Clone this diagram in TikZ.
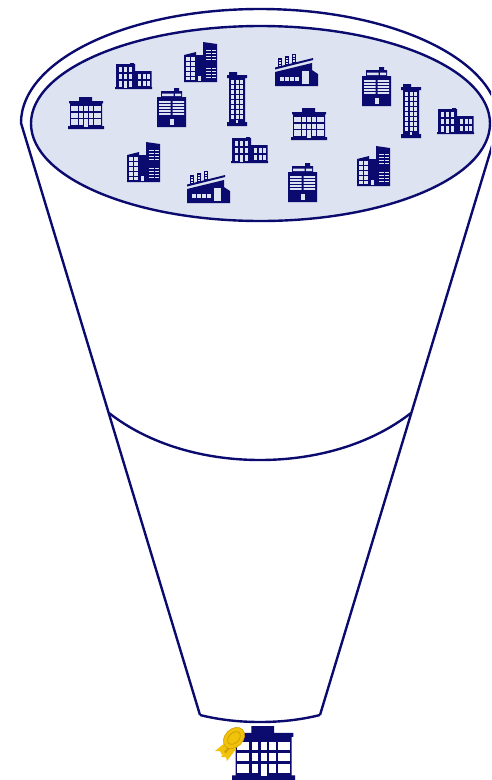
\documentclass[tikz,border=0pt]{standalone}
\definecolor{navy}{HTML}{0B0B6F}
\definecolor{pale}{HTML}{DDE3F0}
\definecolor{gold}{HTML}{F0C20A}
\definecolor{golddark}{HTML}{CFA006}
\tikzset{
  funnel/.style={draw=navy,line width=2.4pt,line join=round},
  body/.style={fill=navy,draw=none},
  pane/.style={fill=\wc,draw=none},
  icon/.style={x=1pt,y=-1pt}
}
\newcommand{\wc}{pale}
% Wide office block, 36 x 32
\newcommand{\iconA}{
  \fill[body] (11,0) rectangle (24,5) (1,4) rectangle (35,6.4) (2,6) rectangle (34,29.5) (0,29) rectangle (36,32);
  \foreach \ya/\yb in {9.4/14,16/20.6,22.4/27.6}{
    \foreach \xa/\xb in {2.6/9.8,11.4/15,16.4/20,21.4/25,26.4/33.4}{
      \fill[pane] (\xa,\ya) rectangle (\xb,\yb);}}
  \fill[pane] (16.4,27) rectangle (20,29.5);
}
% Low two-part building, 37 x 26
\newcommand{\iconB}{
  \fill[body] (1,1) rectangle (20,25) (15,0) rectangle (19,2) (20,8) rectangle (36.5,25) (0,24) rectangle (37,26);
  \foreach \ya/\yb in {3.5/8.5,11/16,18/23.5}{
    \foreach \xa/\xb in {3.5/7,8.5/12,13.5/17}{
      \fill[pane] (\xa,\ya) rectangle (\xb,\yb);}}
  \foreach \ya/\yb in {11/16,18/23}{
    \foreach \xa/\xb in {22.5/26,27.5/30.5,32/35}{
      \fill[pane] (\xa,\ya) rectangle (\xb,\yb);}}
  \fill[pane] (8.5,23) rectangle (12,25);
}
% Twin tower, 33 x 40
\newcommand{\iconC}{
  \fill[body] (0,13) -- (12,10) -- (12,13) -- (19,13) -- (19,0) -- (33,2) -- (33,40) -- (0,40) -- cycle;
  \foreach \ya in {15,20,25,30,34.5}{
    \foreach \xa in {2,7}{
      \fill[pane] (\xa,\ya) rectangle +(3.5,3.8);}}
  \foreach \ya in {7.5,10.5,13.5,16.5,25.5,28.5,31.5,34.5}{
    \foreach \xa/\xw in {22/4.5,28/4}{
      \fill[pane] (\xa,\ya) rectangle +(\xw,1.9);}}
  \fill[pane] (13.5,34) rectangle (17,39);
}
% Tall tower, 20 x 54
\newcommand{\iconD}{
  \fill[body] (2,0) rectangle (10,4) (0,3) rectangle (20,6) (2,6) rectangle (18,51) (0,50) rectangle (20,54);
  \foreach \ya in {8,13,18,23,28,33,38,43}{
    \foreach \xa in {4,8.5,13}{
      \fill[pane] (\xa,\ya) rectangle +(3,3.5);}}
  \fill[pane] (9,48) rectangle (11,51);
}
% Block with stripes, 29 x 39
\newcommand{\iconE}{
  \fill[body] (17,0) rectangle (22,4) (4,3) rectangle (25,10) (0,9) rectangle (29,39);
  \fill[pane] (5,5.5) rectangle (16.5,8) (18,5.5) rectangle (24,8);
  \foreach \ya in {13,16,19,22,25}{
    \fill[pane] (2,\ya) rectangle (13.5,\ya+1.9) (15.5,\ya) rectangle (27,\ya+1.9);}
  \fill[pane] (13,31) rectangle (16.5,37);
}
% Factory, 43 x 33
\newcommand{\iconF}{
  \fill[body] (0,14.5) -- (38,5) -- (38,7) -- (0,16.5) -- cycle;
  \fill[body] (0,19) -- (37,10) -- (37,17) -- (43,21) -- (43,33) -- (0,33) -- cycle;
  \foreach \xa/\ya in {3/5,10/3,17/0.5}{
    \fill[body] (\xa,\ya) rectangle (\xa+4,\ya+10);
    \foreach \k in {1.5,4,6.5}{\fill[pane] (\xa+1,\ya+\k) rectangle (\xa+3,\ya+\k+1.5);}}
  \foreach \xa in {5,10,15,20}{\fill[pane] (\xa,24) rectangle +(3.5,4);}
  \fill[pane] (27,18) rectangle (34,31);
}
\newcommand{\placeicon}[3]{\begin{scope}[shift={(#1,#2)},icon]#3\end{scope}}
\begin{document}
\begin{tikzpicture}[x=1pt,y=-1pt]
\useasboundingbox (0,0) rectangle (491,780);
\begin{scope}
\clip (0,0) rectangle (491,780);
% funnel outline
\draw[funnel] (200,715) -- (21,123)
  arc[start angle=180,end angle=360,x radius=239,y radius=114]
  -- (320,715);
\draw[funnel,fill=pale] (260.5,123.5) ellipse[x radius=229.5,y radius=97.5];
\draw[funnel] (109,413) .. controls (150,445) and (205,460) .. (260,460) .. controls (315,460) and (370,445) .. (411,413);
\draw[funnel] (200,715) .. controls (220,720) and (240,722) .. (260,722) .. controls (280,722) and (300,720) .. (320,715);
\end{scope}
% icons
\placeicon{68}{97}{\iconA}
\placeicon{291}{108}{\iconA}
\placeicon{115}{63}{\iconB}
\placeicon{437}{108}{\iconB}
\placeicon{231}{137}{\iconB}
\placeicon{184}{42}{\iconC}
\placeicon{127}{142}{\iconC}
\placeicon{357}{146}{\iconC}
\placeicon{227}{72}{\iconD}
\placeicon{401}{84}{\iconD}
\placeicon{157}{88}{\iconE}
\placeicon{362}{67}{\iconE}
\placeicon{288}{163}{\iconE}
\placeicon{275}{53}{\iconF}
\placeicon{187}{170}{\iconF}
% certified building
\renewcommand{\wc}{white}
\begin{scope}[shift={(232,726)},icon,xscale=1.75,yscale=1.7]
\iconA
\end{scope}
% rosette
\fill[gold] (226,742) -- (215,751) -- (220,751) -- (222,755) -- (233,746) -- cycle;
\fill[gold] (230,746) -- (221,757) -- (226,757) -- (227,761) -- (236,749) -- cycle;
\fill[golddark] (229,746) -- (224,752) -- (226,753) -- (231,747) -- cycle;
\fill[gold,draw=golddark,line width=.6pt,rotate around={45:(234,738)}] (234,738) ellipse[x radius=12,y radius=9];
\draw[golddark,line width=.8pt,rotate around={45:(234,738)}] (234,738) ellipse[x radius=7.5,y radius=5];
\end{tikzpicture}
\end{document}
